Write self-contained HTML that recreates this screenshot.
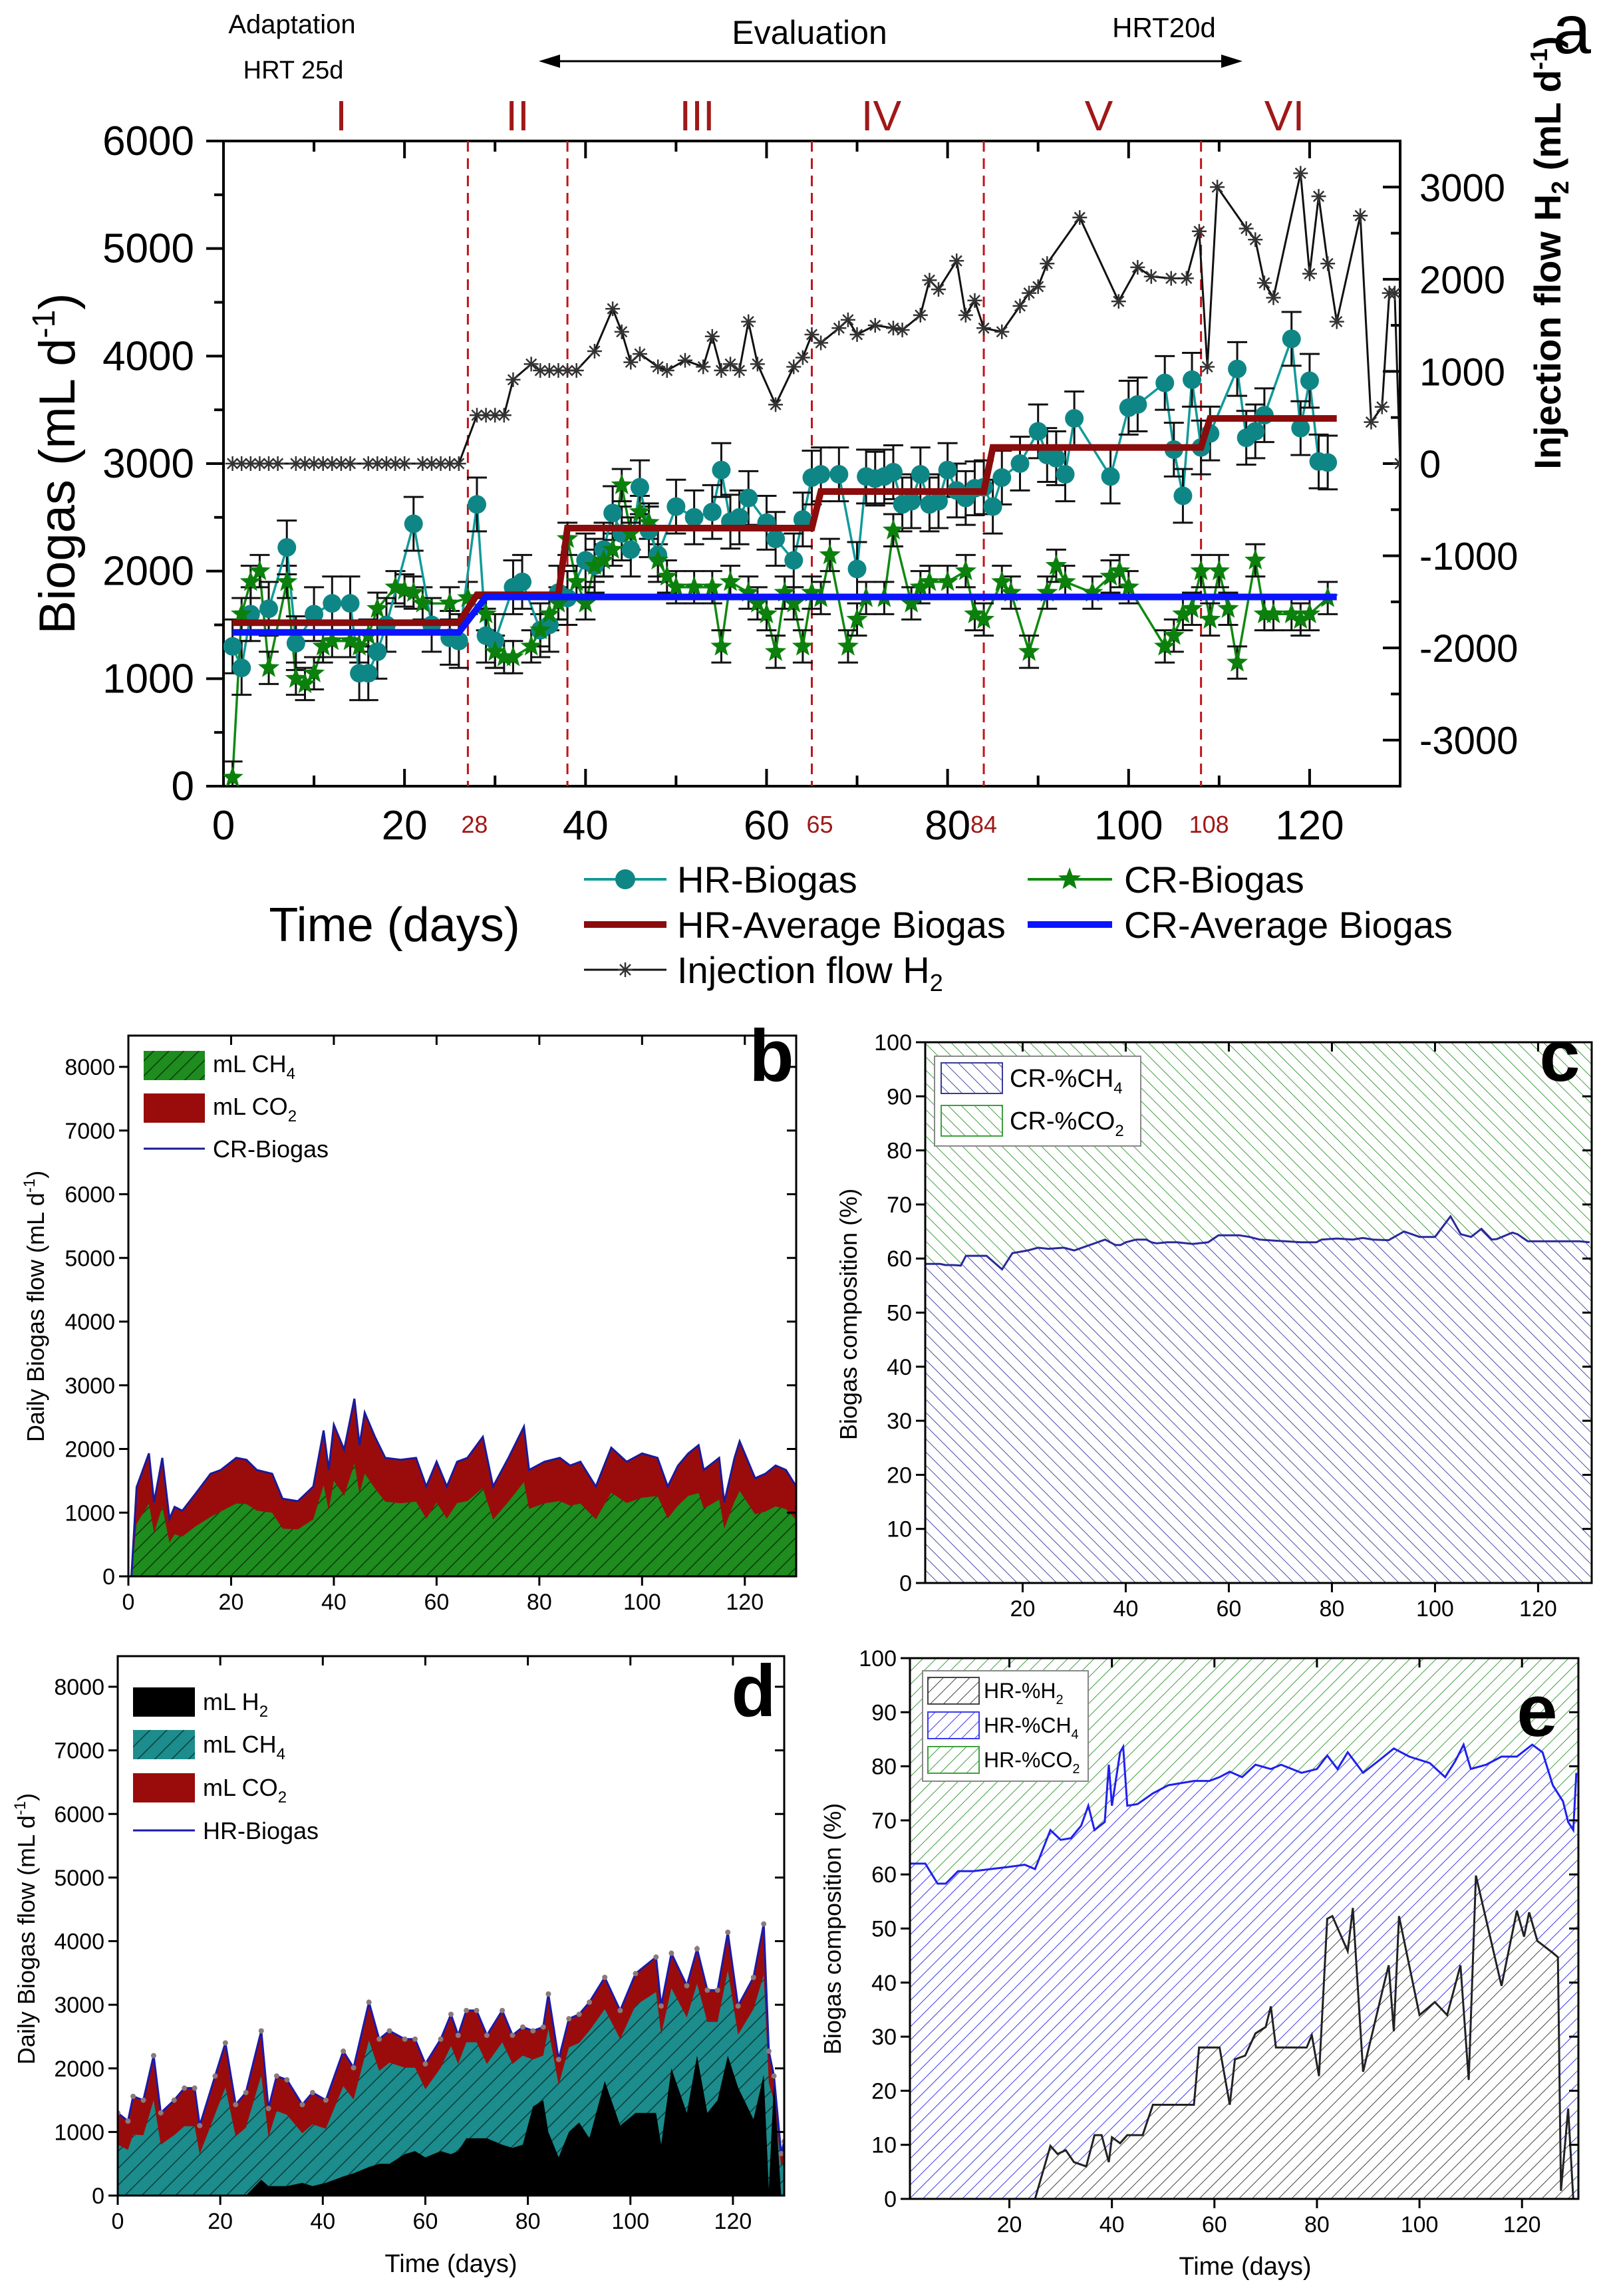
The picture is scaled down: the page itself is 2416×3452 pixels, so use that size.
<!DOCTYPE html>
<html><head><meta charset="utf-8"><style>
html,body{margin:0;padding:0;background:#fff;}
svg{display:block;font-family:"Liberation Sans",sans-serif;}
</style></head><body>
<svg id="fig" xmlns="http://www.w3.org/2000/svg" width="2416" height="3452" viewBox="0 0 2416 3452">
<defs>
<pattern id="pGreenDark" width="16" height="16" patternUnits="userSpaceOnUse" patternTransform="rotate(45)"><rect width="16" height="16" fill="#1e8c1e"/><line x1="0" y1="0" x2="0" y2="16" stroke="#0b3b0b" stroke-width="3"/></pattern>
<pattern id="pTeal" width="18" height="18" patternUnits="userSpaceOnUse" patternTransform="rotate(45)"><rect width="18" height="18" fill="#1c8c8c"/><line x1="0" y1="0" x2="0" y2="18" stroke="#0b3d3d" stroke-width="3"/></pattern>
<pattern id="pBlueB" width="14" height="14" patternUnits="userSpaceOnUse" patternTransform="rotate(-45)"><rect width="14" height="14" fill="#fff"/><line x1="0" y1="0" x2="0" y2="14" stroke="#4a4aa8" stroke-width="2"/></pattern>
<pattern id="pGreenB" width="14" height="14" patternUnits="userSpaceOnUse" patternTransform="rotate(-45)"><rect width="14" height="14" fill="#fff"/><line x1="0" y1="0" x2="0" y2="14" stroke="#3fa03f" stroke-width="2"/></pattern>
<pattern id="pBlueF" width="14" height="14" patternUnits="userSpaceOnUse" patternTransform="rotate(45)"><rect width="14" height="14" fill="#fff"/><line x1="0" y1="0" x2="0" y2="14" stroke="#3a3aee" stroke-width="2"/></pattern>
<pattern id="pGreenF" width="14" height="14" patternUnits="userSpaceOnUse" patternTransform="rotate(45)"><rect width="14" height="14" fill="#fff"/><line x1="0" y1="0" x2="0" y2="14" stroke="#3fa03f" stroke-width="2"/></pattern>
<pattern id="pGrayF" width="14" height="14" patternUnits="userSpaceOnUse" patternTransform="rotate(45)"><rect width="14" height="14" fill="#fff"/><line x1="0" y1="0" x2="0" y2="14" stroke="#444" stroke-width="2"/></pattern>
<clipPath id="clipA"><rect x="336" y="212" width="1769" height="970"/></clipPath>
<clipPath id="clipB"><rect x="193" y="1557" width="1004" height="813"/></clipPath>
<clipPath id="clipC"><rect x="1391" y="1567" width="1002" height="813"/></clipPath>
<clipPath id="clipD"><rect x="177" y="2490" width="1002" height="811"/></clipPath>
<clipPath id="clipE"><rect x="1368" y="2493" width="1005" height="813"/></clipPath>
</defs>
<g id="root"></g>
</svg>
<script>
// ---------- Panel a data ----------
const hrDays=[1,2,3,5,7,8,10,12,14,15,16,17,18,21,23,25,26,28,29,30,32,33,35,36,37,38,40,41,42,43,44,45,46,47,48,50,52,54,55,56,57,58,60,61,63,64,65,66,68,70,71,72,73,74,75,76,77,78,79,80,81,82,83,84,85,86,88,90,91,92,93,94,98,100,101,104,105,106,107,108,109,112,113,114,115,118,119,120,121,122];
const hrBiogas=[1300,1100,1600,1650,2220,1330,1600,1700,1700,1050,1050,1250,1500,2440,1500,1380,1350,2620,1400,1350,1850,1900,1450,1500,1800,1750,2100,2050,2200,2540,2350,2200,2780,2380,2150,2600,2500,2550,2940,2460,2500,2680,2450,2300,2100,2480,2870,2900,2900,2020,2880,2860,2880,2920,2620,2650,2900,2620,2650,2940,2750,2680,2770,2780,2600,2870,3000,3300,3080,3050,2900,3420,2880,3520,3550,3750,3130,2700,3780,3150,3280,3880,3240,3300,3450,4160,3330,3770,3020,3010];
const crDays=[1,2,3,4,5,7,8,9,10,11,12,14,15,16,17,19,20,21,22,25,27,29,30,31,32,34,35,36,37,38,39,40,41,42,43,44,45,46,47,48,49,50,52,54,55,56,58,59,60,61,62,63,64,65,66,67,69,70,71,73,74,76,77,78,80,82,83,84,86,87,89,91,92,93,96,98,99,100,104,105,106,107,108,109,110,111,112,114,115,116,118,119,120,122];
const crBiogas=[80,1600,1900,2000,1100,1900,1000,950,1050,1300,1350,1350,1300,1400,1650,1850,1820,1800,1700,1700,1750,1600,1250,1200,1200,1300,1450,1600,1700,2300,1900,1700,2050,2100,2200,2800,2350,2550,2450,2100,1950,1850,1850,1850,1300,1900,1800,1700,1600,1250,1800,1700,1300,1800,1750,2150,1300,1550,1750,1750,2380,1700,1850,1900,1900,2000,1600,1550,1900,1800,1250,1800,2050,1900,1800,1950,2000,1850,1300,1400,1600,1650,2000,1550,2000,1650,1150,2100,1600,1600,1600,1550,1600,1750];
const hrErr=250, crErr=150;
const hrAvgDays=[1,26,28,37,38,65,66,84,85,108,109,123];
const hrAvg=[1520,1520,1780,1780,2400,2400,2740,2740,3150,3150,3420,3420];
const crAvgDays=[1,26,29,123];
const crAvg=[1430,1430,1760,1760];
const injDays=[1,2,3,4,5,6,8,9,10,11,12,13,14,16,17,18,19,20,22,23,24,25,26,28,29,30,31,32,34,35,36,37,38,39,41,43,44,45,46,48,49,51,53,54,55,56,57,58,59,61,63,64,65,66,68,69,70,72,74,75,77,78,79,81,82,83,84,86,88,89,90,91,94.6,98.9,101,102.5,104.7,106.4,107.8,108.7,109.8,113,114,115,116,119,120,121,122,123,125.6,126.8,128,128.8,129.4,130];
const injFlow=[0,0,0,0,0,0,0,0,0,0,0,0,0,0,0,0,0,0,0,0,0,0,0,525,525,525,525,910,1080,1010,1010,1010,1010,1010,1220,1680,1430,1100,1190,1050,1010,1120,1050,1380,1010,1080,1010,1540,1080,640,1050,1150,1400,1310,1470,1560,1400,1500,1470,1450,1610,1990,1890,2200,1610,1770,1470,1430,1710,1850,1920,2170,2670,1760,2130,2030,2010,2010,2520,1050,3000,2550,2430,1960,1800,3150,2060,2900,2170,1540,2690,450,615,1850,1850,0];
const phaseDays=[27,38,65,84,108];
const phaseLabels=["28","","65","84","108"];
const xTicksA=[0,20,40,60,80,100,120];
const yTicksA=[0,1000,2000,3000,4000,5000,6000];
const yTicksR=[-3000,-2000,-1000,0,1000,2000,3000];

// ---------- Panel b / c data ----------
const bDays=[0.6,1.6,4,5,6.6,8,9,10.5,13,16,18,21,23,25,28,30,33,36,38,39,40,42,44,45,46,48,50,53,56,58,60,62,64,66,69,71,74,77,78,81,84,86,88,91,94,97,100,103,105,107,109,111,112,115,116,118,119,122,124,126,128,130];
const bTotal=[0,1400,1930,1160,1860,900,1090,1030,1290,1610,1670,1860,1830,1670,1610,1220,1180,1410,2290,1670,2380,1990,2790,2060,2570,2190,1860,1830,1860,1410,1800,1410,1800,1860,2190,1410,1860,2350,1670,1800,1860,1740,1800,1410,2020,1800,1930,1860,1410,1740,1930,2060,1670,1860,1160,1860,2120,1540,1610,1740,1670,1410];
const cPctCH4=[59,59,59,58.8,58.8,58.7,60.5,60.5,60.5,58,61,61.5,62,61.8,62,61.5,62.5,63.5,62.5,62.5,63,63.5,63.5,63,62.8,63,63,62.7,63,64.3,64.3,64.3,64,63.5,63.3,63.2,63,63,63.5,63.7,63.5,63.8,63.5,63.4,65,64,64,67.8,64.5,64,65.5,63.5,63.6,64.8,64.5,63.2,63.2,63.2,63.2,63.2,63.2,63];
const yTicksB=[0,1000,2000,3000,4000,5000,6000,7000,8000];
const xTicksB=[0,20,40,60,80,100,120];
const yTicksC=[0,10,20,30,40,50,60,70,80,90,100];
const xTicksC=[20,40,60,80,100,120];

// ---------- Panel d data ----------
const dDays=[0,2,3,5,7,8.4,11,13,15,16,19,21,23,25,28,29.4,31,33,36,38,40.6,44,46,49,51,53,56,58,60,63,65,66.4,68,70,72,75,77,79,81,83,84,86,88,90,92,95,98,101,105,106,108,111,113,115,117,119,121,124,126,127,128,129.4,130];
const dTotal=[1300,1170,1560,1500,2200,1300,1500,1690,1690,1100,1880,2400,1430,1620,2590,1370,1880,1820,1430,1620,1500,2270,2010,3040,2460,2590,2460,2460,2070,2460,2850,2520,2910,2910,2520,2910,2520,2650,2590,2650,3170,2140,2780,2850,3040,3430,2910,3490,3750,2980,3810,3300,3880,3230,3230,4140,2980,3430,4270,2270,1880,660,850];
const dCO2=[500,450,600,550,700,500,550,600,600,450,600,700,500,550,700,450,550,550,450,500,450,550,500,600,500,500,450,450,400,450,500,450,500,500,450,500,450,450,450,450,550,400,450,450,450,500,450,500,550,450,550,500,550,500,500,600,450,500,800,500,400,200,300];
const dH2=[0,0,0,0,0,0,0,0,0,0,0,0,0,0,250,150,150,150,200,150,200,300,350,450,500,500,650,700,600,700,650,700,900,900,900,800,750,800,1400,1500,1000,600,1000,1150,900,1800,1100,1300,1300,800,2000,1300,2200,1300,1500,2200,1700,1200,1900,100,1800,0,0];

// ---------- Panel e data ----------
const eDaysCH4=[0.6,3.6,6,7.6,10,13,20,23,25,28,30,32,34,35.4,36.6,38.6,39.4,40,41.6,42.2,43,45,48,51,56,59,61,63,65.4,68,71,73,77,80,82,84,86,89,92,95,98,102,105,107,108.6,110,113,116,119,122,124,126,128,129,130,130.6];
const ePctCH4cum=[62,62,58.3,58.3,60.6,60.6,61.4,61.8,61,68.2,66.4,66.7,69,72.7,68.2,69.7,80.3,72.7,82.6,83.6,72.7,73,75,76.5,77.3,77.3,78,79,78,80.3,79.5,80.3,78.8,79.5,82,79.5,82.6,78.8,81,83.3,81.8,80.6,78,81,84,79.5,80.3,81.8,81.8,84,82.6,76.5,73.5,69.7,68.2,78.8];
const eDaysH2=[0.6,25,28,29.4,31,32.6,35,36.6,38,39.4,40,41.6,43,46,48,51,56,57,61,63,64,66,68,70,71,72,74,78,79,80.4,82,83,86,87,89,93,94,95,96,100,103,105.4,108,109.6,111,116,119,120.4,121.4,123,126,127,127.6,129,130];
const ePctH2=[0,0,9.8,8.3,9,6.8,6,11.8,11.8,6.8,11.4,10.3,11.8,11.8,17.4,17.4,17.4,28,28,17.4,25.8,26.5,30.6,31.8,35.6,28,28,28,30.3,22.7,51.8,52.3,45.8,53.8,23.5,39.4,43.2,31,52.3,34,36.4,34,43.2,22,59.8,39.4,53.3,48.5,53,47.7,45.5,44.7,1.5,16.7,0];

// ---------- helpers ----------
const NS="http://www.w3.org/2000/svg";
const root=document.getElementById('root');
function mk(tag,attrs,parent){const e=document.createElementNS(NS,tag);for(const k in attrs)e.setAttribute(k,attrs[k]);(parent||root).appendChild(e);return e;}
function lin(d0,d1,r0,r1){return v=>r0+(v-d0)/(d1-d0)*(r1-r0);}
function txt(x,y,s,size,anchor,parent,extra){const t=mk('text',Object.assign({x:x,y:y,'font-size':size,'text-anchor':anchor||'middle',fill:'#000'},extra||{}),parent);t.textContent=s;return t;}
function starPath(cx,cy,r){let d='';for(let i=0;i<10;i++){const rr=i%2?r*0.42:r;const a=-Math.PI/2+i*Math.PI/5;d+=(i?'L':'M')+(cx+rr*Math.cos(a)).toFixed(1)+' '+(cy+rr*Math.sin(a)).toFixed(1);}return d+'Z';}
function poly(xs,ys){return xs.map((x,i)=>(i?'L':'M')+x.toFixed(1)+' '+ys[i].toFixed(1)).join('');}

// ================= PANEL A =================
const xA=lin(0,130,336,2105), yA=lin(0,6000,1182,212), yR=lin(-3500,3500,1182,212);
const gA=mk('g',{});


// axes frame
let el=mk('path',{d:'M336 212 V1182 H2105 V212 H336',fill:'none',stroke:'#000','stroke-width':4},gA);


// left ticks & labels
yTicksA.forEach(v=>{
  const y=yA(v);
  mk('line',{x1:310,x2:336,y1:y,y2:y,stroke:'#000','stroke-width':4},gA);
  if(v<6000) mk('line',{x1:322,x2:336,y1:yA(v+500),y2:yA(v+500),stroke:'#000','stroke-width':4},gA);
  const t=txt(292,y+21,String(v),62,'end',gA);
  
  
});
// right ticks & labels
yTicksR.forEach(v=>{
  const y=yR(v);
  mk('line',{x1:2079,x2:2105,y1:y,y2:y,stroke:'#000','stroke-width':4},gA);
  mk('line',{x1:2091,x2:2105,y1:yR(v+500),y2:yR(v+500),stroke:'#000','stroke-width':4},gA);
  const t=txt(2134,y+21,String(v),58,'start',gA);
  
  
});
// bottom/top ticks
for(let d=0;d<=130;d+=10){
  const x=xA(d), L=(d%20===0)?26:16;
  mk('line',{x1:x,x2:x,y1:1182,y2:1182-L,stroke:'#000','stroke-width':4},gA);
  mk('line',{x1:x,x2:x,y1:212,y2:212+L,stroke:'#000','stroke-width':4},gA);
}
xTicksA.forEach(d=>{
  const t=txt(xA(d),1262,String(d),62,'middle',gA);
  
  
});
// phase lines
phaseDays.forEach((d,i)=>{
  const l=mk('line',{x1:xA(d),x2:xA(d),y1:212,y2:1182,stroke:'#c0141a','stroke-width':3,'stroke-dasharray':'16 10'},gA);
  
  
  if(phaseLabels[i]){
    const t=txt(xA(d)+(i===0?10:i===3?0:12),1252,phaseLabels[i],36,'middle',gA,{fill:'#a01818'});
    
    
  }
});
// roman numerals
[['I',513],['II',778],['III',1048],['IV',1325],['V',1652],['VI',1931]].forEach(r=>{
  const t=txt(r[1],196,r[0],64,'middle',gA,{fill:'#a01818'});
  
  
});
// top annotations
el=txt(439,50,'Adaptation',40,'middle',gA);


el=txt(441,118,'HRT 25d',38,'middle',gA);


el=txt(1217,66,'Evaluation',50,'middle',gA);


el=txt(1750,56,'HRT20d',42,'middle',gA);


el=mk('path',{d:'M835 92 H1842',stroke:'#000','stroke-width':3},gA);


mk('path',{d:'M810 92 L842 82 L842 102 Z M1868 92 L1836 82 L1836 102 Z',fill:'#000'},gA);
el=txt(2392,80,'a',104,'end',gA);


// axis titles
el=txt(0,0,'',76,'middle',gA,{transform:'translate(112,697) rotate(-90)'});
el.innerHTML='Biogas (mL d<tspan font-size="48" dy="-30">-1</tspan><tspan dy="30">)</tspan>';


el=txt(0,0,'',56,'middle',gA,{transform:'translate(2346,380) rotate(-90)','font-weight':'bold'});
el.innerHTML='Injection flow H<tspan font-size="36" dy="12">2</tspan><tspan dy="-12"> (mL d</tspan><tspan font-size="36" dy="-20">-1</tspan><tspan dy="20">)</tspan>';


el=txt(593,1415,'Time (days)',72,'middle',gA);



const gAd=mk('g',{'clip-path':'url(#clipA)'},gA);


// injection line
el=mk('path',{d:poly(injDays.map(xA),injFlow.map(yR)),fill:'none',stroke:'#111','stroke-width':3},gAd);


injDays.forEach((d,i)=>{
  const x=xA(d),y=yR(injFlow[i]),r=11;
  const m=mk('path',{d:`M${x-r} ${y}H${x+r}M${x} ${y-r}V${y+r}M${x-r*.7} ${y-r*.7}L${x+r*.7} ${y+r*.7}M${x-r*.7} ${y+r*.7}L${x+r*.7} ${y-r*.7}`,stroke:'#333','stroke-width':2.5,fill:'none'},gAd);
  
  
});
// CR line, error bars, stars
el=mk('path',{d:poly(crDays.map(xA),crBiogas.map(yA)),fill:'none',stroke:'#108a10','stroke-width':3.5},gAd);


crDays.forEach((d,i)=>{
  const x=xA(d),y1=yA(crBiogas[i]-crErr),y2=yA(crBiogas[i]+crErr);
  const m=mk('path',{d:`M${x} ${y1}V${y2}M${x-15} ${y1}H${x+15}M${x-15} ${y2}H${x+15}`,stroke:'#111','stroke-width':3,fill:'none'},gAd);
  
  
});
// HR line, error bars
el=mk('path',{d:poly(hrDays.map(xA),hrBiogas.map(yA)),fill:'none',stroke:'#129a9a','stroke-width':3.5},gAd);


hrDays.forEach((d,i)=>{
  const x=xA(d),y1=yA(hrBiogas[i]-hrErr),y2=yA(hrBiogas[i]+hrErr);
  const m=mk('path',{d:`M${x} ${y1}V${y2}M${x-15} ${y1}H${x+15}M${x-15} ${y2}H${x+15}`,stroke:'#111','stroke-width':3,fill:'none'},gAd);
  
  
});
hrDays.forEach((d,i)=>{
  const c=mk('circle',{cx:xA(d),cy:yA(hrBiogas[i]),r:14,fill:'#0f8686'},gAd);
  
  
});
crDays.forEach((d,i)=>{
  const s=mk('path',{d:starPath(xA(d),yA(crBiogas[i]),17),fill:'#0c800c'},gAd);
  
  
});
el=mk('path',{d:poly(hrAvgDays.map(xA),hrAvg.map(yA)),fill:'none',stroke:'#8b0c0c','stroke-width':10},gAd);


el=mk('path',{d:poly(crAvgDays.map(xA),crAvg.map(yA)),fill:'none',stroke:'#0a14ff','stroke-width':10},gAd);



// legend A
const lgA=mk('g',{},gA);


mk('line',{x1:878,x2:1002,y1:1322,y2:1322,stroke:'#129a9a','stroke-width':4},lgA);
mk('circle',{cx:940,cy:1322,r:15,fill:'#0f8686'},lgA);
el=txt(1018,1342,'HR-Biogas',56,'start',lgA);


mk('line',{x1:1545,x2:1672,y1:1322,y2:1322,stroke:'#108a10','stroke-width':4},lgA);
mk('path',{d:starPath(1608,1322,18),fill:'#0c800c'},lgA);
el=txt(1690,1342,'CR-Biogas',56,'start',lgA);


mk('line',{x1:878,x2:1002,y1:1390,y2:1390,stroke:'#8b0c0c','stroke-width':10},lgA);
el=txt(1018,1410,'HR-Average Biogas',56,'start',lgA);


mk('line',{x1:1545,x2:1672,y1:1390,y2:1390,stroke:'#0a14ff','stroke-width':10},lgA);
el=txt(1690,1410,'CR-Average Biogas',56,'start',lgA);


mk('line',{x1:878,x2:1002,y1:1458,y2:1458,stroke:'#111','stroke-width':3},lgA);
mk('path',{d:'M929 1458H951M940 1447V1469M932 1450L948 1466M932 1466L948 1450',stroke:'#333','stroke-width':2.5},lgA);
el=txt(1018,1478,'',56,'start',lgA);
el.innerHTML='Injection flow H<tspan font-size="36" dy="12">2</tspan>';



// ========== generic framed axes ==========
function frame(g,x0,x1,y0,y1,xs,ys,xt,yt,fs){
  mk('rect',{x:x0,y:y0,width:x1-x0,height:y1-y0,fill:'none',stroke:'#000','stroke-width':3},g);
  xt.forEach(v=>{const x=xs(v);
    mk('line',{x1:x,x2:x,y1:y1,y2:y1+14,stroke:'#000','stroke-width':3},g);
    mk('line',{x1:x,x2:x,y1:y0,y2:y0+14,stroke:'#000','stroke-width':3},g);
    const t=txt(x,y1+50,String(v),fs,'middle',g);
    
    
  });
  yt.forEach(v=>{const y=ys(v);
    mk('line',{x1:x0-14,x2:x0,y1:y,y2:y,stroke:'#000','stroke-width':3},g);
    mk('line',{x1:x1,x2:x1-14,y1:y,y2:y,stroke:'#000','stroke-width':3},g);
    const t=txt(x0-20,y+12,String(v),fs,'end',g);
    
    
  });
}

// ================= PANEL B =================
const xB=lin(0,130,193,1197), yB=lin(0,8000,2370,1604);
const gB=mk('g',{});


const gBd=mk('g',{'clip-path':'url(#clipB)'},gB);
const bx=bDays.map(xB);
el=mk('path',{d:poly(bx,bTotal.map(yB))+`L${bx[bx.length-1]} ${yB(0)}L${bx[0]} ${yB(0)}Z`,fill:'#9a0c0c'},gBd);


el=mk('path',{d:poly(bx,bTotal.map((v,i)=>yB(v*cPctCH4[i]/100)))+`L${bx[bx.length-1]} ${yB(0)}L${bx[0]} ${yB(0)}Z`,fill:'url(#pGreenDark)'},gBd);


el=mk('path',{d:poly(bx,bTotal.map(yB)),fill:'none',stroke:'#1a1a9a','stroke-width':3},gBd);


frame(gB,193,1197,1557,2370,xB,yB,xTicksB,yTicksB,34);
el=txt(0,0,'',36,'middle',gB,{transform:'translate(66,1964) rotate(-90)'});
el.innerHTML='Daily Biogas flow (mL d<tspan font-size="24" dy="-14">-1</tspan><tspan dy="14">)</tspan>';


el=txt(1160,1625,'b',110,'middle',gB,{'font-weight':'bold'});


const lgB=mk('g',{},gB);


mk('rect',{x:216,y:1580,width:92,height:44,fill:'url(#pGreenDark)'},lgB);
mk('rect',{x:216,y:1644,width:92,height:44,fill:'#9a0c0c'},lgB);
mk('line',{x1:216,x2:308,y1:1727,y2:1727,stroke:'#1a1a9a','stroke-width':3},lgB);
el=txt(320,1612,'',36,'start',lgB);el.innerHTML='mL CH<tspan font-size="24" dy="10">4</tspan>';


el=txt(320,1676,'',36,'start',lgB);el.innerHTML='mL CO<tspan font-size="24" dy="10">2</tspan>';


el=txt(320,1740,'CR-Biogas',36,'start',lgB);



// ================= PANEL C =================
const xC=lin(1.1,130.4,1391,2393), yC=lin(0,100,2380,1567);
const gC=mk('g',{});


const gCd=mk('g',{'clip-path':'url(#clipC)'},gC);
el=mk('rect',{x:1391,y:1567,width:1002,height:813,fill:'url(#pGreenB)'},gCd);


const cx=bDays.map(xC);
el=mk('path',{d:poly(cx,cPctCH4.map(yC))+`L${cx[cx.length-1]} ${yC(0)}L${cx[0]} ${yC(0)}Z`,fill:'url(#pBlueB)'},gCd);


el=mk('path',{d:poly(cx,cPctCH4.map(yC)),fill:'none',stroke:'#2a2a9a','stroke-width':3},gCd);


mk('rect',{x:1391,y:1567,width:1002,height:813,fill:'none',stroke:'#2a9a2a','stroke-width':3},gC);
frame(gC,1391,2393,1567,2380,xC,yC,xTicksC,yTicksC,34);
el=txt(0,0,'Biogas composition (%)',36,'middle',gC,{transform:'translate(1288,1976) rotate(-90)'});


el=txt(2345,1625,'c',110,'middle',gC,{'font-weight':'bold'});


const lgC=mk('g',{},gC);


mk('rect',{x:1405,y:1588,width:310,height:135,fill:'#fff',stroke:'#888','stroke-width':2},lgC);
mk('rect',{x:1415,y:1598,width:92,height:46,fill:'url(#pBlueB)',stroke:'#3a3a9a','stroke-width':2},lgC);
mk('rect',{x:1415,y:1662,width:92,height:46,fill:'url(#pGreenB)',stroke:'#3fa03f','stroke-width':2},lgC);
el=txt(1518,1634,'',38,'start',lgC);el.innerHTML='CR-%CH<tspan font-size="24" dy="10">4</tspan>';


el=txt(1518,1698,'',38,'start',lgC);el.innerHTML='CR-%CO<tspan font-size="24" dy="10">2</tspan>';



// ================= PANEL D =================
const xD=lin(0,130,177,1179), yD=lin(0,8000,3301,2536);
const gD=mk('g',{});


const gDd=mk('g',{'clip-path':'url(#clipD)'},gD);
const dx=dDays.map(xD), close=`L${dx[dx.length-1]} ${yD(0)}L${dx[0]} ${yD(0)}Z`;
el=mk('path',{d:poly(dx,dTotal.map(yD))+close,fill:'#9a0c0c'},gDd);


el=mk('path',{d:poly(dx,dTotal.map((v,i)=>yD(v-dCO2[i])))+close,fill:'url(#pTeal)'},gDd);


el=mk('path',{d:poly(dx,dH2.map(yD))+close,fill:'#000'},gDd);


el=mk('path',{d:poly(dx,dTotal.map(yD)),fill:'none',stroke:'#1a1aaa','stroke-width':3},gDd);


dDays.forEach((d,i)=>{
  const m=mk('circle',{cx:xD(d),cy:yD(dTotal[i]),r:4,fill:'#8a7a7a'},gDd);
  
  
});
frame(gD,177,1179,2490,3301,xD,yD,xTicksB,yTicksB,34);
el=txt(0,0,'',36,'middle',gD,{transform:'translate(52,2900) rotate(-90)'});
el.innerHTML='Daily Biogas flow (mL d<tspan font-size="24" dy="-14">-1</tspan><tspan dy="14">)</tspan>';


el=txt(678,3416,'Time (days)',38,'middle',gD);


el=txt(1133,2580,'d',110,'middle',gD,{'font-weight':'bold'});


const lgD=mk('g',{},gD);


mk('rect',{x:200,y:2537,width:93,height:44,fill:'#000'},lgD);
mk('rect',{x:200,y:2601,width:93,height:44,fill:'url(#pTeal)'},lgD);
mk('rect',{x:200,y:2666,width:93,height:44,fill:'#9a0c0c'},lgD);
mk('line',{x1:200,x2:293,y1:2752,y2:2752,stroke:'#1a1aaa','stroke-width':3},lgD);
el=txt(305,2571,'',36,'start',lgD);el.innerHTML='mL H<tspan font-size="24" dy="10">2</tspan>';


el=txt(305,2635,'',36,'start',lgD);el.innerHTML='mL CH<tspan font-size="24" dy="10">4</tspan>';


el=txt(305,2700,'',36,'start',lgD);el.innerHTML='mL CO<tspan font-size="24" dy="10">2</tspan>';


el=txt(305,2765,'HR-Biogas',36,'start',lgD);



// ================= PANEL E =================
const xE=lin(0.6,131,1368,2373), yE=lin(0,100,3306,2493);
const gE=mk('g',{});


const gEd=mk('g',{'clip-path':'url(#clipE)'},gE);
el=mk('rect',{x:1368,y:2493,width:1005,height:813,fill:'url(#pGreenF)'},gEd);


const ex=eDaysCH4.map(xE);
el=mk('path',{d:poly(ex,ePctCH4cum.map(yE))+`L${ex[ex.length-1]} ${yE(0)}L${ex[0]} ${yE(0)}Z`,fill:'url(#pBlueF)'},gEd);


const hx=eDaysH2.map(xE);
el=mk('path',{d:poly(hx,ePctH2.map(yE))+`L${hx[hx.length-1]} ${yE(0)}L${hx[0]} ${yE(0)}Z`,fill:'url(#pGrayF)'},gEd);


el=mk('path',{d:poly(ex,ePctCH4cum.map(yE)),fill:'none',stroke:'#2020ee','stroke-width':3},gEd);


el=mk('path',{d:poly(hx,ePctH2.map(yE)),fill:'none',stroke:'#222','stroke-width':3},gEd);


mk('rect',{x:1368,y:2493,width:1005,height:813,fill:'none',stroke:'#2a9a2a','stroke-width':3},gE);
frame(gE,1368,2373,2493,3306,xE,yE,xTicksC,yTicksC,34);
el=txt(0,0,'Biogas composition (%)',36,'middle',gE,{transform:'translate(1264,2900) rotate(-90)'});


el=txt(1872,3420,'Time (days)',38,'middle',gE);


el=txt(2311,2610,'e',110,'middle',gE,{'font-weight':'bold'});


const lgE=mk('g',{},gE);


mk('rect',{x:1387,y:2512,width:249,height:166,fill:'#fff',stroke:'#888','stroke-width':2},lgE);
mk('rect',{x:1395,y:2522,width:77,height:40,fill:'url(#pGrayF)',stroke:'#444','stroke-width':2},lgE);
mk('rect',{x:1395,y:2574,width:77,height:40,fill:'url(#pBlueF)',stroke:'#3a3aee','stroke-width':2},lgE);
mk('rect',{x:1395,y:2626,width:77,height:40,fill:'url(#pGreenF)',stroke:'#3fa03f','stroke-width':2},lgE);
el=txt(1479,2553,'',32,'start',lgE);el.innerHTML='HR-%H<tspan font-size="20" dy="9">2</tspan>';


el=txt(1479,2605,'',32,'start',lgE);el.innerHTML='HR-%CH<tspan font-size="20" dy="9">4</tspan>';


el=txt(1479,2657,'',32,'start',lgE);el.innerHTML='HR-%CO<tspan font-size="20" dy="9">2</tspan>';


</script>
</body></html>
